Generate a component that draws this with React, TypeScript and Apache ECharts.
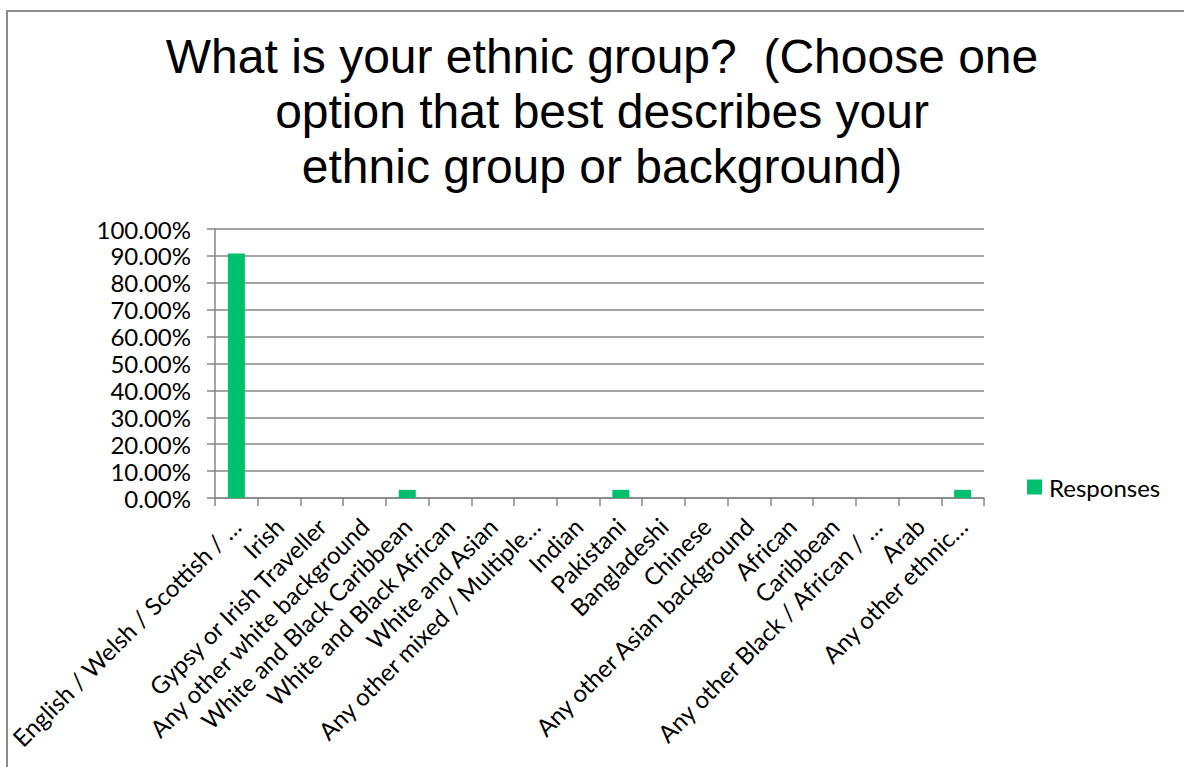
import React, { useEffect, useRef } from "react";
import * as echarts from "echarts";

const titleText =
  "What is your ethnic group?  (Choose one\noption that best describes your\nethnic group or background)";
const seriesName = "Responses";
const categories = [
  "English / Welsh / Scottish / …",
  "Irish",
  "Gypsy or Irish Traveller",
  "Any other white background",
  "White and Black Caribbean",
  "White and Black African",
  "White and Asian",
  "Any other mixed / Multiple…",
  "Indian",
  "Pakistani",
  "Bangladeshi",
  "Chinese",
  "Any other Asian background",
  "African",
  "Caribbean",
  "Any other Black / African / …",
  "Arab",
  "Any other ethnic…",
];
const responses = [
  0.9091, 0, 0, 0, 0.0303, 0, 0, 0, 0, 0.0303, 0, 0, 0, 0, 0, 0, 0, 0.0303,
];
const yMin = 0;
const yMax = 1;
const yStep = 0.1;

const FONT = "Lato, 'Liberation Sans', sans-serif";
const GRAY = "#868686";

export default function App() {
  const ref = useRef<HTMLDivElement>(null);
  useEffect(() => {
    if (!ref.current) return;
    const chart = echarts.init(ref.current, null, { renderer: "svg" });
    chart.setOption({
      animation: false,
      backgroundColor: "#ffffff",
      graphic: [
        {
          type: "rect",
          shape: { x: 7, y: 11, width: 1300, height: 900 },
          style: { fill: "none", stroke: "#8c8c8c", lineWidth: 2 },
          silent: true,
        },
      ],
      title: {
        text: titleText,
        left: 597,
        top: 24,
        textAlign: "center",
        textStyle: {
          fontFamily: "'Liberation Sans', Arial, sans-serif",
          fontSize: 48,
          fontWeight: "normal",
          lineHeight: 55,
          color: "#000000",
          align: "center",
        },
      },
      legend: {
        data: [seriesName],
        left: 1027,
        top: 475,
        padding: 0,
        icon: "rect",
        itemWidth: 15,
        itemHeight: 15,
        textStyle: {
          fontFamily: FONT,
          fontSize: 24,
          color: "#000000",
          padding: [0, 0, 0, 2],
        },
      },
      grid: { left: 215, right: 200, top: 229, bottom: 269 },
      xAxis: {
        type: "category",
        data: categories,
        axisLine: { lineStyle: { color: GRAY, width: 1.5 } },
        axisTick: { show: true, length: 8, lineStyle: { color: GRAY, width: 1.5 } },
        axisLabel: {
          interval: 0,
          rotate: 45,
          margin: 24,
          fontFamily: FONT,
          fontSize: 24,
          color: "#000000",
        },
      },
      yAxis: {
        type: "value",
        min: yMin,
        max: yMax,
        interval: yStep,
        axisLine: { show: true, lineStyle: { color: GRAY, width: 1.5 } },
        axisTick: { show: true, length: 8, lineStyle: { color: GRAY, width: 1.5 } },
        splitLine: { lineStyle: { color: GRAY, width: 1.5 } },
        axisLabel: {
          margin: 24,
          fontFamily: FONT,
          fontSize: 24,
          color: "#000000",
          formatter: (v: number) => (v * 100).toFixed(2) + "%",
        },
      },
      series: [
        {
          name: seriesName,
          type: "bar",
          data: responses,
          barWidth: 17,
          itemStyle: { color: "#00BF6F" },
        },
      ],
    });
    return () => chart.dispose();
  }, []);
  return (
    <div
      ref={ref}
      style={{ position: "fixed", left: 0, top: 0, width: 1184, height: 767 }}
    />
  );
}
